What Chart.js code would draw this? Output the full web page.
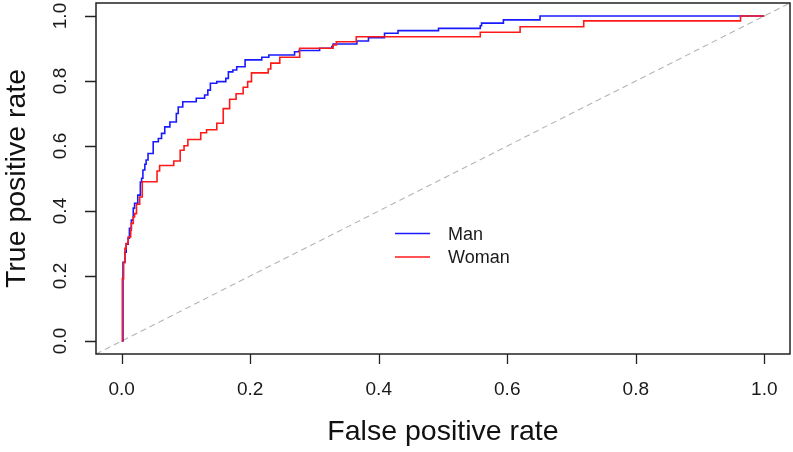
<!DOCTYPE html>
<html>
<head>
<meta charset="utf-8">
<script src="https://cdn.jsdelivr.net/npm/chart.js@4"></script>
<style>
  html, body { margin:0; padding:0; background:#fff; }
  #wrap { width:793px; height:452px; }
</style>
</head>
<body>
<div id="wrap"><canvas id="roc" width="793" height="452"></canvas></div>
<script>
// ---- data ----
const seriesNames = ["Man", "Woman"];

// step points: false positive rate where the curve jumps, true positive rate after the jump
const manFpr = [0, 0.002, 0.005, 0.007, 0.010, 0.012, 0.015, 0.018, 0.020, 0.025, 0.029, 0.031,
  0.033, 0.036, 0.038, 0.041, 0.049, 0.057, 0.062, 0.067, 0.075, 0.085, 0.088, 0.095, 0.116,
  0.129, 0.134, 0.138, 0.148, 0.162, 0.166, 0.173, 0.179, 0.192, 0.218, 0.229, 0.269, 0.276,
  0.308, 0.327, 0.329, 0.366, 0.384, 0.409, 0.430, 0.493, 0.558, 0.560, 0.594, 0.651, 1.0];
const manTpr = [0, 0.242, 0.273, 0.298, 0.316, 0.347, 0.372, 0.409, 0.424, 0.449, 0.489, 0.501,
  0.526, 0.544, 0.557, 0.577, 0.613, 0.623, 0.639, 0.659, 0.674, 0.700, 0.720, 0.736, 0.747,
  0.757, 0.772, 0.793, 0.798, 0.808, 0.828, 0.834, 0.844, 0.865, 0.873, 0.880, 0.890, 0.894,
  0.901, 0.906, 0.914, 0.923, 0.933, 0.947, 0.955, 0.962, 0.970, 0.978, 0.988, 1.0, 1.0];

const womanFpr = [0, 0.001, 0.003, 0.005, 0.007, 0.010, 0.014, 0.015, 0.018, 0.020, 0.023, 0.028,
  0.032, 0.055, 0.059, 0.081, 0.091, 0.097, 0.103, 0.123, 0.132, 0.148, 0.158, 0.168, 0.178,
  0.189, 0.196, 0.202, 0.228, 0.232, 0.246, 0.277, 0.329, 0.334, 0.365, 0.558, 0.620, 0.719,
  0.963, 1.0];
const womanTpr = [0, 0.192, 0.242, 0.285, 0.300, 0.320, 0.341, 0.362, 0.382, 0.392, 0.421, 0.443,
  0.490, 0.523, 0.540, 0.554, 0.587, 0.601, 0.620, 0.641, 0.650, 0.670, 0.715, 0.744, 0.761,
  0.781, 0.798, 0.825, 0.837, 0.855, 0.873, 0.901, 0.911, 0.921, 0.936, 0.950, 0.967, 0.985,
  1.0, 1.0];

// chance line (abline 0,1) across the whole plot box
const diagX = [-0.04, 1.04];
const diagY = [-0.04, 1.04];

const xTicks = [0, 0.2, 0.4, 0.6, 0.8, 1.0];
const yTicks = [0, 0.2, 0.4, 0.6, 0.8, 1.0];
const tickText = ["0.0", "0.2", "0.4", "0.6", "0.8", "1.0"];

// ---- helpers ----
const FONT = "'Liberation Sans', Arial, sans-serif";
const pts = (xs, ys) => xs.map((x, i) => ({ x: x, y: ys[i] }));

// box, tick marks, rotated y labels and the in-plot legend (R style)
const rDecor = {
  id: 'rDecor',
  afterDatasetsDraw(chart) {
    const { ctx, chartArea: a, scales } = chart;
    const xs = scales.x, ys = scales.y;
    ctx.save();
    ctx.strokeStyle = '#222';
    ctx.lineWidth = 1.5;
    ctx.strokeRect(a.left, a.top, a.right - a.left, a.bottom - a.top);

    // tick marks
    ctx.lineWidth = 1.3;
    ctx.beginPath();
    xTicks.forEach(v => {
      const px = Math.round(xs.getPixelForValue(v)) + 0.5;
      ctx.moveTo(px, a.bottom); ctx.lineTo(px, a.bottom + 10);
    });
    yTicks.forEach(v => {
      const py = Math.round(ys.getPixelForValue(v)) + 0.5;
      ctx.moveTo(a.left, py); ctx.lineTo(a.left - 11, py);
    });
    ctx.stroke();

    // y tick labels, rotated like R's las=0
    ctx.fillStyle = '#1a1a1a';
    ctx.font = '19px ' + FONT;
    ctx.textAlign = 'center';
    ctx.textBaseline = 'middle';
    yTicks.forEach((v, i) => {
      ctx.save();
      ctx.translate(61, ys.getPixelForValue(v));
      ctx.rotate(-Math.PI / 2);
      ctx.fillText(tickText[i], 0, 0);
      ctx.restore();
    });

    // legend inside the plot, no box
    const ds = chart.data.datasets;
    const rows = [{ name: seriesNames[0], col: ds[1].borderColor, ly: 233.5, ty: 235 },
                  { name: seriesNames[1], col: ds[0].borderColor, ly: 257, ty: 258.5 }];
    ctx.font = '18px ' + FONT;
    ctx.textAlign = 'left';
    rows.forEach(r => {
      ctx.strokeStyle = r.col;
      ctx.lineWidth = 1.4;
      ctx.beginPath();
      ctx.moveTo(395, r.ly); ctx.lineTo(430, r.ly);
      ctx.stroke();
      ctx.fillStyle = '#1a1a1a';
      ctx.fillText(r.name, 448, r.ty);
    });
    ctx.restore();
  }
};

new Chart(document.getElementById('roc'), {
  type: 'line',
  data: {
    datasets: [
      { label: seriesNames[1], data: pts(womanFpr, womanTpr), borderColor: '#ff1a1a',
        borderWidth: 1.6, stepped: 'before', pointRadius: 0, fill: false, order: 0 },
      { label: seriesNames[0], data: pts(manFpr, manTpr), borderColor: '#1a1aff',
        borderWidth: 1.6, stepped: 'before', pointRadius: 0, fill: false, order: 1 },
      { label: 'chance', data: pts(diagX, diagY), borderColor: '#b4b4b4',
        borderWidth: 1.1, borderDash: [6, 4], pointRadius: 0, fill: false, order: 2 }
    ]
  },
  options: {
    responsive: false,
    animation: false,
    layout: { padding: { top: 3, right: 3, left: 0, bottom: 0 } },
    plugins: { legend: { display: false }, tooltip: { enabled: false } },
    scales: {
      x: {
        type: 'linear', min: -0.04, max: 1.04,
        afterBuildTicks: s => { s.ticks = xTicks.map(v => ({ value: v })); },
        afterFit: s => { s.height = 98; s.paddingLeft = 0; s.paddingRight = 0; },
        grid: { display: false }, border: { display: false },
        ticks: { autoSkip: false, maxRotation: 0, padding: 16, color: '#1a1a1a',
                 font: { family: FONT, size: 19 },
                 callback: (v) => tickText[xTicks.indexOf(v)] },
        title: { display: true, text: 'False positive rate', color: '#111',
                 font: { family: FONT, size: 28.5 }, padding: { top: 0, bottom: 3 } }
      },
      y: {
        type: 'linear', min: -0.04, max: 1.04,
        afterBuildTicks: s => { s.ticks = yTicks.map(v => ({ value: v })); },
        afterFit: s => { s.width = 96; s.paddingTop = 0; s.paddingBottom = 0; },
        grid: { display: false }, border: { display: false },
        ticks: { display: false },
        title: { display: true, text: 'True positive rate', color: '#111',
                 font: { family: FONT, size: 28.5 }, padding: { top: 0, bottom: 0 } }
      }
    }
  },
  plugins: [rDecor]
});
</script>
</body>
</html>
